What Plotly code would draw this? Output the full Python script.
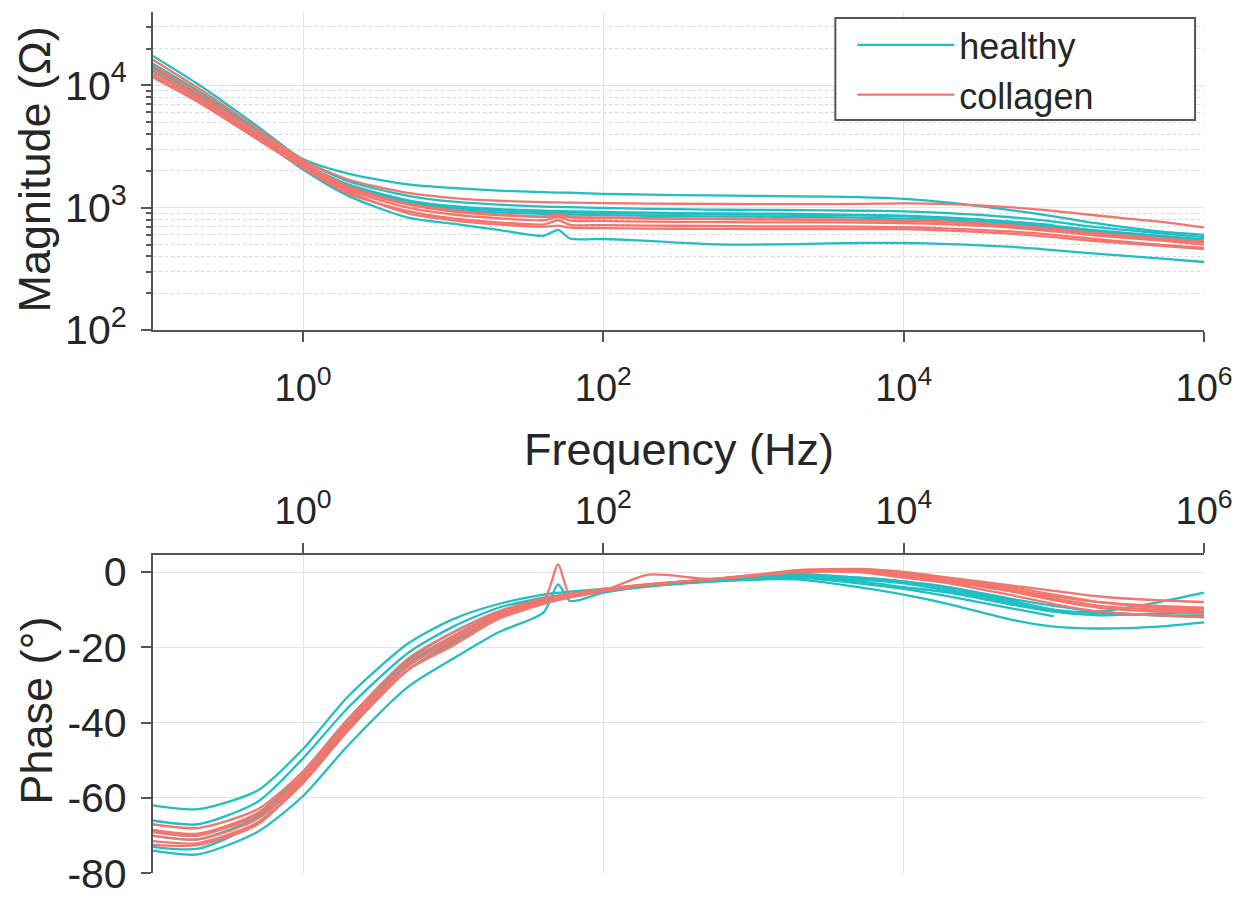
import plotly.graph_objects as go

# ---------------- data ----------------
freq_hz = [0.1, 0.2, 0.5, 1, 2, 5, 10, 20, 40, 50, 60, 100, 200, 500,
           1000, 2000, 5000, 10000, 20000, 50000, 100000, 200000, 500000, 1000000]

mag_healthy_1 = [15000, 9000, 4300, 2500, 1900, 1550, 1450, 1380, 1340, 1330, 1325, 1300,
                 1280, 1260, 1250, 1240, 1220, 1180, 1100, 960, 850, 740, 640, 600]
mag_healthy_2 = [17400, 10200, 4600, 2450, 1650, 1250, 1120, 1060, 1020, 1015, 1010, 995,
                 980, 965, 960, 955, 945, 935, 905, 840, 770, 690, 620, 575]
mag_healthy_3 = [14000, 8500, 4000, 2300, 1550, 1150, 1030, 975, 945, 940, 935, 925,
                 910, 900, 895, 890, 875, 860, 830, 770, 710, 650, 590, 550]
mag_healthy_4 = [13200, 8000, 3800, 2200, 1450, 1080, 970, 915, 890, 885, 880, 870,
                 860, 850, 845, 840, 830, 815, 790, 740, 690, 635, 580, 545]
mag_healthy_5 = [14500, 8500, 3800, 2050, 1250, 830, 740, 660, 590, 660, 560, 555,
                 535, 505, 500, 505, 515, 515, 505, 480, 450, 420, 385, 360]
mag_healthy_6 = [13800, 8300, 3900, 2250, 1500, 1120, 1000, 950, 920, 915, 912, 905,
                 895, 885, 880, 875, 865, 850, 820, 770, 720, None, None, None]

mag_collagen_1 = [16200, 9500, 4400, 2450, 1700, 1320, 1200, 1140, 1110, 1105, 1100, 1090,
                  1080, 1075, 1070, 1070, 1075, 1085, 1070, 1010, 940, 860, 770, 690]
mag_collagen_2 = [12600, 7800, 3800, 2200, 1400, 1000, 880, 820, 790, 840, 785, 780,
                  770, 765, 760, 760, 755, 750, 730, 690, 640, 590, 540, 500]
mag_collagen_3 = [11600, 7300, 3600, 2100, 1300, 940, 820, 760, 730, 790, 725, 720,
                  715, 710, 705, 705, 700, 695, 675, 640, 600, 550, 500, 470]
mag_collagen_4 = [13500, 8200, 3900, 2250, 1450, 1060, 930, 870, 840, 850, 835, 830,
                  820, 810, 805, 800, 790, 780, 760, 710, 660, 610, 555, 520]
mag_collagen_5 = [12000, 7500, 3700, 2150, 1350, 900, 790, 730, 700, 715, 688, 680,
                  675, 672, 670, 670, 670, 668, 650, 615, 575, 530, 490, 460]
mag_collagen_6 = [14500, 8700, 4100, 2350, 1500, 1080, 950, 880, 850, 880, 840, 830,
                  820, 810, 805, 800, 795, 790, 770, 720, 670, 620, 565, 530]

ph_healthy_1 = [-62, -63, -58, -47, -33, -19, -12.5, -8.5, -6, -5.5, -5.2, -4.5,
                -3.5, -2.5, -2, -1.5, -2.5, -4, -5.5, -8.5, -10.5, -10.5, -8, -5.5]
ph_healthy_2 = [-66, -67, -61, -49.5, -36, -21.5, -14.5, -9.5, -6.8, -6.2, -5.8, -4.8,
                -3.6, -2.4, -1.5, -1, -2, -3, -5, -8, -10.5, -11.5, -11, -10.5]
ph_healthy_3 = [-70, -71, -65, -54, -40, -24.5, -17, -11, -7.5, -6.8, -6.2, -5,
                -3.6, -2.2, -1.2, -0.5, -1.5, -2.5, -4, -7, -9, -10.5, -11.5, -12]
ph_healthy_4 = [-73, -73.5, -66.5, -56, -42, -26, -18.5, -12, -8, -7.2, -6.6, -5.2,
                -3.8, -2.4, -1.5, -1, -1.5, -2.5, -4.5, -7.5, -10, -11, -11.5, -11.5]
ph_healthy_5 = [-74, -75, -69, -59.5, -46, -30.5, -23, -16, -10.7, -3.3, -7.7, -5.5,
                -3.8, -2.6, -2, -2, -4, -6, -8.5, -12.5, -14.5, -15, -14.5, -13.4]
ph_healthy_6 = [-69, -70, -64, -53, -39, -23.5, -16, -10.5, -7.2, -6.5, -6, -4.8,
                -3.5, -2.3, -1.5, -1.5, -3, -4.5, -6.5, -9.5, -11.8, None, None, None]

ph_collagen_1 = [-67, -68, -63, -53, -39, -23, -16, -10.5, -7, -6.3, -5.8, -4.5,
                 -3.2, -2, -1, 0.5, 0.8, 0, -1.5, -3.5, -5, -6.5, -7.5, -8]
ph_collagen_2 = [-68.5, -69.5, -64, -54, -40, -24, -17, -11, -7.5, 2, -6, -4.7,
                 -3.3, -2, -1, 0.3, 0.5, -0.5, -2, -4.5, -6.5, -8, -9, -9.5]
ph_collagen_3 = [-70, -71, -65.5, -55, -41, -25, -18, -11.5, -7.8, -7, -6.4, -5,
                 -3.4, -2, -0.8, 0, 0.2, -1, -2.5, -5, -7.5, -9.5, -10.5, -11]
ph_collagen_4 = [-71.5, -72, -66.5, -56, -42, -26, -19, -12, -8, -7.2, -6.6, -5,
                 -3.5, -2, -1, 0, 0, -1.5, -3, -6, -8.5, -10.5, -11.5, -12]
ph_collagen_5 = [-72.5, -72.5, -67, -55.5, -41.5, -26, -19.5, -12.5, -8.5, -7.5, -6.8, -5,
                 -0.7, -1.8, -0.8, 0.5, 0.5, -0.5, -2, -4, -6, -8, -9.5, -10]
ph_collagen_6 = [-69, -70, -64.5, -54.5, -40.5, -25, -17.5, -11, -7.5, -6.8, -6.2, -4.8,
                 -3.3, -2, -1, 0.2, 0.3, -0.8, -2.5, -5, -7, -9, -10, -10.5]

mag_healthy = [mag_healthy_1, mag_healthy_2, mag_healthy_3, mag_healthy_4, mag_healthy_5, mag_healthy_6]
mag_collagen = [mag_collagen_1, mag_collagen_2, mag_collagen_3, mag_collagen_4, mag_collagen_5, mag_collagen_6]
ph_healthy = [ph_healthy_1, ph_healthy_2, ph_healthy_3, ph_healthy_4, ph_healthy_5, ph_healthy_6]
ph_collagen = [ph_collagen_1, ph_collagen_2, ph_collagen_3, ph_collagen_4, ph_collagen_5, ph_collagen_6]

freq_tickvals = [1, 100, 10000, 1000000]
freq_ticktext = ["10<sup>0</sup>", "10<sup>2</sup>", "10<sup>4</sup>", "10<sup>6</sup>"]
mag_tickvals = [100, 1000, 10000]
mag_ticktext = ["10<sup>2</sup>", "10<sup>3</sup>", "10<sup>4</sup>"]
mag_minor_vals = [200, 300, 400, 500, 600, 700, 800, 900,
                  2000, 3000, 4000, 5000, 6000, 7000, 8000, 9000,
                  20000, 30000, 40000]
phase_tickvals = [0, -20, -40, -60, -80]
phase_ticktext = ["0", "-20", "-40", "-60", "-80"]

# ---------------- style ----------------
TEAL = "#1FBFC4"
SALMON = "#F2766D"
AXIS = "#555555"
TXT = "#262626"
FONT = "Liberation Sans, Arial, sans-serif"
S = 0.978                      # photo scale observed for the page
W, H = round(1255 / S), round(899 / S)


def px(x):          # reference pixel -> paper fraction
    return x / 1255


def py(y):
    return 1 - y / 899


fig = go.Figure()


def add_group(mags, phs, color, name):
    for i, (m, p) in enumerate(zip(mags, phs)):
        fig.add_trace(go.Scatter(x=freq_hz, y=m, mode="lines", name=name,
                                 legendgroup=name, showlegend=(i == 0),
                                 line=dict(color=color, width=2.3, shape="spline", smoothing=0.7),
                                 xaxis="x", yaxis="y"))
        fig.add_trace(go.Scatter(x=freq_hz, y=p, mode="lines", name=name,
                                 legendgroup=name, showlegend=False,
                                 line=dict(color=color, width=2.3, shape="spline", smoothing=0.7),
                                 xaxis="x2", yaxis="y2"))


add_group(mag_healthy, ph_healthy, TEAL, "healthy")
add_group(mag_collagen, ph_collagen, SALMON, "collagen")

xdom = [px(153), px(1205)]
common_x = dict(type="log", range=[-1, 6], domain=xdom,
                tickmode="array", tickvals=freq_tickvals, ticktext=freq_ticktext,
                ticks="outside", ticklen=10, tickwidth=2, tickcolor=AXIS,
                showline=True, linecolor=AXIS, linewidth=2,
                showgrid=True, gridcolor="#e3e3e3", gridwidth=1,
                zeroline=False, tickfont=dict(size=38, color=TXT, family=FONT))

fig.update_layout(
    width=W, height=H,
    margin=dict(l=0, r=0, t=0, b=0),
    paper_bgcolor="white", plot_bgcolor="white",
    font=dict(family=FONT, color=TXT),
    xaxis=dict(common_x, anchor="y", ticklabelstandoff=13),
    yaxis=dict(type="log", range=[2, 4.6], domain=[py(328), py(7)],
               anchor="x", tickmode="array", tickvals=mag_tickvals, ticktext=mag_ticktext,
               ticks="outside", ticklen=10, tickwidth=2, tickcolor=AXIS,
               showline=True, linecolor=AXIS, linewidth=2,
               showgrid=True, gridcolor="#e3e3e3", gridwidth=1, zeroline=False,
               ticklabelstandoff=6,
               tickfont=dict(size=41, color=TXT, family=FONT),
               minor=dict(tickmode="array", tickvals=mag_minor_vals, ticks="outside",
                          ticklen=5, tickwidth=1.5, tickcolor=AXIS,
                          showgrid=True, gridcolor="#d6d6d6", griddash="dot", gridwidth=1)),
    xaxis2=dict(common_x, anchor="y2", side="top", ticklabelstandoff=4),
    yaxis2=dict(range=[-80, 4.5], domain=[py(876), py(555)], anchor="x2",
                tickmode="array", tickvals=phase_tickvals, ticktext=phase_ticktext,
                ticks="outside", ticklen=10, tickwidth=2, tickcolor=AXIS,
                showline=True, linecolor=AXIS, linewidth=2,
                showgrid=True, gridcolor="#e3e3e3", gridwidth=1, zeroline=False,
                ticklabelstandoff=6,
                tickfont=dict(size=41, color=TXT, family=FONT)),
    legend=dict(x=px(853), y=py(10), xanchor="left", yanchor="top",
                bgcolor="rgba(255,255,255,0)", borderwidth=0,
                font=dict(size=36, color=TXT, family=FONT),
                itemwidth=97, tracegroupgap=0),
    shapes=[dict(type="rect", xref="paper", yref="paper",
                 x0=px(836), x1=px(1196), y0=py(116), y1=py(13),
                 line=dict(color=AXIS, width=2), fillcolor="white", layer="above")],
    annotations=[
        dict(text="Magnitude (\u03a9)", xref="paper", yref="paper", x=px(35), y=py(166),
             textangle=-90, showarrow=False, xanchor="center", yanchor="middle",
             font=dict(size=45, color=TXT, family=FONT)),
        dict(text="Frequency (Hz)", xref="paper", yref="paper", x=px(680), y=py(448),
             showarrow=False, xanchor="center", yanchor="middle",
             font=dict(size=45, color=TXT, family=FONT)),
        dict(text="Phase (\u00b0)", xref="paper", yref="paper", x=px(37), y=py(712),
             textangle=-90, showarrow=False, xanchor="center", yanchor="middle",
             font=dict(size=45, color=TXT, family=FONT)),
    ],
)

fig.write_html("out.html", config={"displayModeBar": False},
               post_script="document.body.style.margin='0';"
                           "document.body.style.overflow='hidden';")
